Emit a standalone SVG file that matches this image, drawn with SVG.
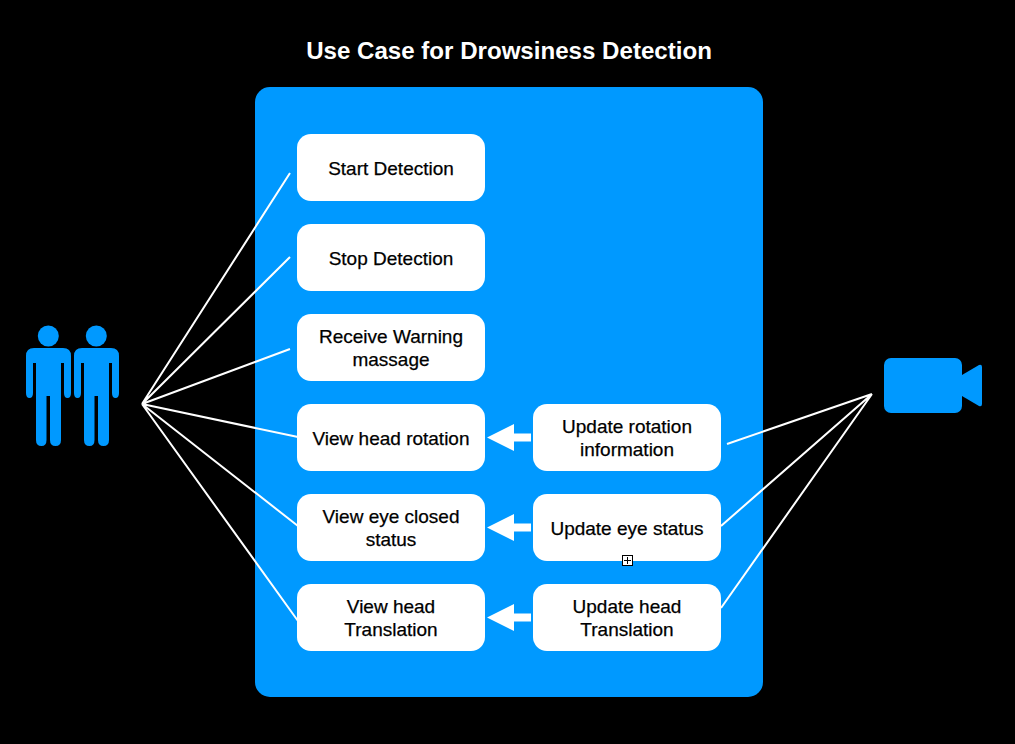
<svg xmlns="http://www.w3.org/2000/svg" width="1015" height="744" viewBox="0 0 1015 744">
<style>
text{font-family:"Liberation Sans",Arial,sans-serif;text-anchor:middle;fill:#000;font-size:19px;stroke:#000;stroke-width:.25px}
.title{fill:#fff;stroke:none;font-size:24.100px;font-weight:bold}
.uc{fill:#fff}
.ln{stroke:#fff;stroke-width:2;fill:none}
.blue{fill:#0099ff}
</style>
<defs>
<g id="person" class="blue">
<circle cx="48.300" cy="336" r="10.500"/>
<path d="M34 348H63Q71 348 71 356V393Q71 398 67.500 398Q64 398 64 393V363H61V440Q61 446 55.500 446Q50 446 50 440V396H46.500V440Q46.500 446 41.500 446Q36 446 36 440V363H33V393Q33 398 29.500 398Q26 398 26 393V356Q26 348 34 348Z"/>
</g>
<polygon id="arr" points="487,437.500 514,424 514,433.500 531,433.500 531,441.500 514,441.500 514,451" fill="#fff"/>
</defs>
<rect width="1015" height="744" fill="#000"/>
<text class="title" x="509" y="59">Use Case for Drowsiness Detection</text>
<rect id="system" class="blue" x="255" y="87" width="508" height="610" rx="15"/>
<g id="actor-users"><use href="#person"/><use href="#person" x="48"/></g>
<g id="actor-camera" class="blue">
<rect x="884" y="358" width="78" height="55" rx="7"/>
<path d="M962 375L979 365Q982 364 982 367V404Q982 407 979 406L962 396Z"/>
</g>
<g id="connectors">
<path class="ln" d="M142 404L290 173M142 404L290 257M142 404L290 349M142 404L298 437M142 404L298 526M142 404L298 621M872 394L727 444M872 394L721 526M872 394L721 608"/>
<use href="#arr"/><use href="#arr" y="90"/><use href="#arr" y="180"/>
</g>
<g id="uc1"><rect class="uc" x="297" y="134" width="188" height="67" rx="14"/><text x="391" y="175">Start Detection</text></g>
<g id="uc2"><rect class="uc" x="297" y="224" width="188" height="67" rx="14"/><text x="391" y="265">Stop Detection</text></g>
<g id="uc3"><rect class="uc" x="297" y="314" width="188" height="67" rx="14"/><text x="391" y="343">Receive Warning</text><text x="391" y="366">massage</text></g>
<g id="uc4"><rect class="uc" x="297" y="404" width="188" height="67" rx="14"/><text x="391" y="445">View head rotation</text></g>
<g id="uc5"><rect class="uc" x="297" y="494" width="188" height="67" rx="14"/><text x="391" y="523">View eye closed</text><text x="391" y="546">status</text></g>
<g id="uc6"><rect class="uc" x="297" y="584" width="188" height="67" rx="14"/><text x="391" y="613">View head</text><text x="391" y="636">Translation</text></g>
<g id="uc7"><rect class="uc" x="533" y="404" width="188" height="67" rx="14"/><text x="627" y="433">Update rotation</text><text x="627" y="456">information</text></g>
<g id="uc8"><rect class="uc" x="533" y="494" width="188" height="67" rx="14"/><text x="627" y="535">Update eye status</text></g>
<g id="uc9"><rect class="uc" x="533" y="584" width="188" height="67" rx="14"/><text x="627" y="613">Update head</text><text x="627" y="636">Translation</text></g>
<g id="cursor"><rect x="622.500" y="555.500" width="10" height="10" fill="#fff" stroke="#000"/><path d="M627.500 557V564M624 560.500H631" stroke="#000" fill="none"/></g>
</svg>
